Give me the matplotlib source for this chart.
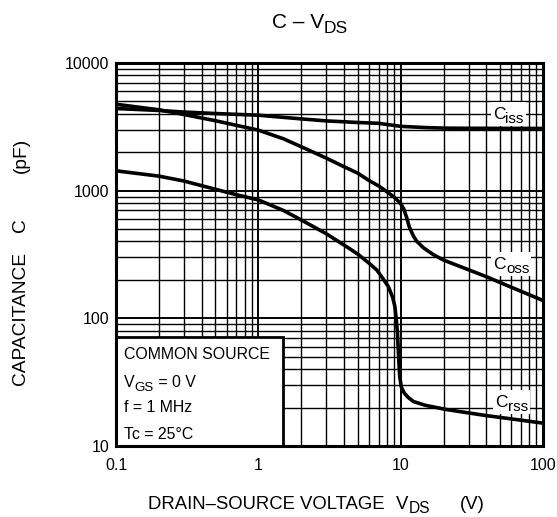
import matplotlib
matplotlib.use("Agg")
import matplotlib.pyplot as plt
from matplotlib.ticker import LogLocator, FixedLocator, FixedFormatter, NullFormatter
from matplotlib.patches import Rectangle
from matplotlib.transforms import offset_copy

plt.rcParams['font.family'] = ['Liberation Sans', 'DejaVu Sans']

# ---- data ----
ciss_v = [0.1, 0.2, 0.3, 0.5, 1, 2, 3, 5, 7, 10, 15, 20, 30, 50, 100]
ciss_c = [4400, 4250, 4130, 4020, 3900, 3650, 3520, 3420, 3370, 3190, 3120, 3090, 3080, 3075, 3070]

coss_v = [0.1, 0.2, 0.3, 0.5, 0.7, 1, 1.5, 2, 3, 4, 5, 6, 7, 8, 9, 9.5, 10, 10.5,
          11, 11.5, 12.3, 13, 14.5, 17, 20, 30, 40, 60, 100]
coss_c = [4750, 4300, 3950, 3530, 3250, 2980, 2550, 2210, 1800, 1540, 1370, 1200,
          1090, 980, 890, 840, 790, 720, 620, 520, 440, 400, 356, 315, 286, 240, 212, 175, 138]

crss_v = [0.1, 0.2, 0.3, 0.5, 0.7, 1, 1.5, 2, 3, 4.4, 5, 6, 6.8, 7.5, 8.2, 8.8, 9.1,
          9.3, 9.5, 9.7, 9.85, 10.1, 10.6, 11.3, 12.3, 15, 21, 40, 60, 100]
crss_c = [1430, 1300, 1190, 1025, 930, 846, 700, 590, 460, 350, 318, 270, 239, 205,
          177, 145, 124, 100, 76, 47, 35, 29, 26, 24, 22.3, 20.8, 19.3, 17.3, 16.3, 15.1]

x_ticks = [0.1, 1, 10, 100]
x_ticklabels = ["0.1", "1", "10", "100"]
y_ticks = [10, 100, 1000, 10000]
y_ticklabels = ["10", "100", "1000", "10000"]

curve_labels = [("C", "iss", 57, 4060),
                ("C", "oss", 60, 272),
                ("C", "rss", 60, 22.5)]

info_lines = [[("COMMON SOURCE", 0)],
              [("V", 0), ("GS", -1), (" = 0 V", 0)],
              [("f = 1 MHz", 0)],
              [("Tc = 25°C", 0)]]

# ---- figure ----
fig = plt.figure(figsize=(5.57, 5.17), dpi=100)
ax = fig.add_axes([116/557, 71/517, 427/557, 383/517])
ax.set_xscale('log')
ax.set_yscale('log')
ax.set_xlim(0.1, 100)
ax.set_ylim(10, 10000)

ax.xaxis.set_major_locator(FixedLocator(x_ticks))
ax.xaxis.set_major_formatter(FixedFormatter(x_ticklabels))
ax.yaxis.set_major_locator(FixedLocator(y_ticks))
ax.yaxis.set_major_formatter(FixedFormatter(y_ticklabels))
ax.xaxis.set_minor_locator(LogLocator(base=10, subs=range(2, 10)))
ax.yaxis.set_minor_locator(LogLocator(base=10, subs=range(2, 10)))
ax.xaxis.set_minor_formatter(NullFormatter())
ax.yaxis.set_minor_formatter(NullFormatter())
ax.tick_params(which='both', length=0)
ax.tick_params(axis='x', pad=9, labelsize=11.5)
ax.tick_params(axis='y', pad=5, labelsize=11.5)

ax.grid(which='major', color='black', linewidth=1.4)
ax.grid(which='minor', color='black', linewidth=1.0)
ax.set_axisbelow(True)
for s in ax.spines.values():
    s.set_linewidth(2.2)
    s.set_color('black')
    s.set_zorder(6)

for v, c in [(ciss_v, ciss_c), (coss_v, coss_c), (crss_v, crss_c)]:
    ax.plot(v, c, color='black', linewidth=2.6, solid_capstyle='round',
            solid_joinstyle='round', zorder=3)

renderer = fig.canvas.get_renderer()


def rich(x, y, parts, transform, ha='center', zorder=7, bg=False):
    """parts: list of (text, fontsize, dy_px). Places pieces side by side."""
    texts = []
    widths = []
    for t, fs, dy in parts:
        tx = fig.text(0, 0, t, fontsize=fs, ha='left', va='baseline', zorder=zorder)
        w = tx.get_window_extent(renderer).width
        texts.append((tx, dy))
        widths.append(w)
    total = sum(widths)
    start = -total / 2 if ha == 'center' else 0
    cap = parts[0][1] * 100 / 72 * 0.716
    base_dy = -cap / 2
    cur = start
    for (tx, dy), w in zip(texts, widths):
        tr = offset_copy(transform, fig=fig, x=cur * 72 / 100, y=(base_dy + dy) * 72 / 100,
                         units='points')
        tx.set_position((x, y))
        tx.set_transform(tr)
        cur += w
    if bg:
        disp = transform.transform((x, y))
        h = cap + 10
        inv = fig.transFigure.inverted()
        p0 = inv.transform((disp[0] + start - 2, disp[1] - h / 2 - 2))
        p1 = inv.transform((disp[0] + start + total + 2, disp[1] + h / 2))
        fig.patches.append(Rectangle(p0, p1[0] - p0[0], p1[1] - p0[1],
                                     transform=fig.transFigure, facecolor='white',
                                     edgecolor='none', zorder=zorder - 1))
    return texts


def fx(px):
    return px / 557


def fy(py):
    return 1 - py / 517


for main, sub, xv, yv in curve_labels:
    rich(xv, yv, [(main, 12.5, 0), (sub, 11, -4)], ax.transData, bg=True, zorder=8)

# info box
box = Rectangle((0, 0), 0.392, 0.284, transform=ax.transAxes, facecolor='white',
                edgecolor='black', linewidth=2.0, zorder=5)
ax.add_patch(box)
ys = [353.7, 381, 406.7, 433.3]
for line, yp in zip(info_lines, ys):
    parts = [(t, 11.4 if dy == 0 else 9.6, -4 if dy else 0) for t, dy in line]
    rich(fx(124), fy(yp), parts, fig.transFigure, ha='left', zorder=9)

# title
rich(fx(310), fy(21), [("C – V", 15, 0), ("DS", 12.5, -5)], fig.transFigure)

# x label pieces
rich(fx(148), fy(502), [("DRAIN–SOURCE VOLTAGE", 13.3, 0)], fig.transFigure, ha='left')
rich(fx(396), fy(502), [("V", 13.3, 0), ("DS", 11.2, -4.5)], fig.transFigure, ha='left')
rich(fx(460), fy(502), [("(V)", 13.3, 0)], fig.transFigure, ha='left')

# y label pieces
fig.text(fx(21), fy(318.5), "CAPACITANCE", fontsize=13.8, ha='center', va='center', rotation=90)
fig.text(fx(21), fy(225), "C", fontsize=13.8, ha='center', va='center', rotation=90)
fig.text(fx(21), fy(155), "(pF)", fontsize=13.8, ha='center', va='center', rotation=90)

fig.savefig("out.png", dpi=100)
